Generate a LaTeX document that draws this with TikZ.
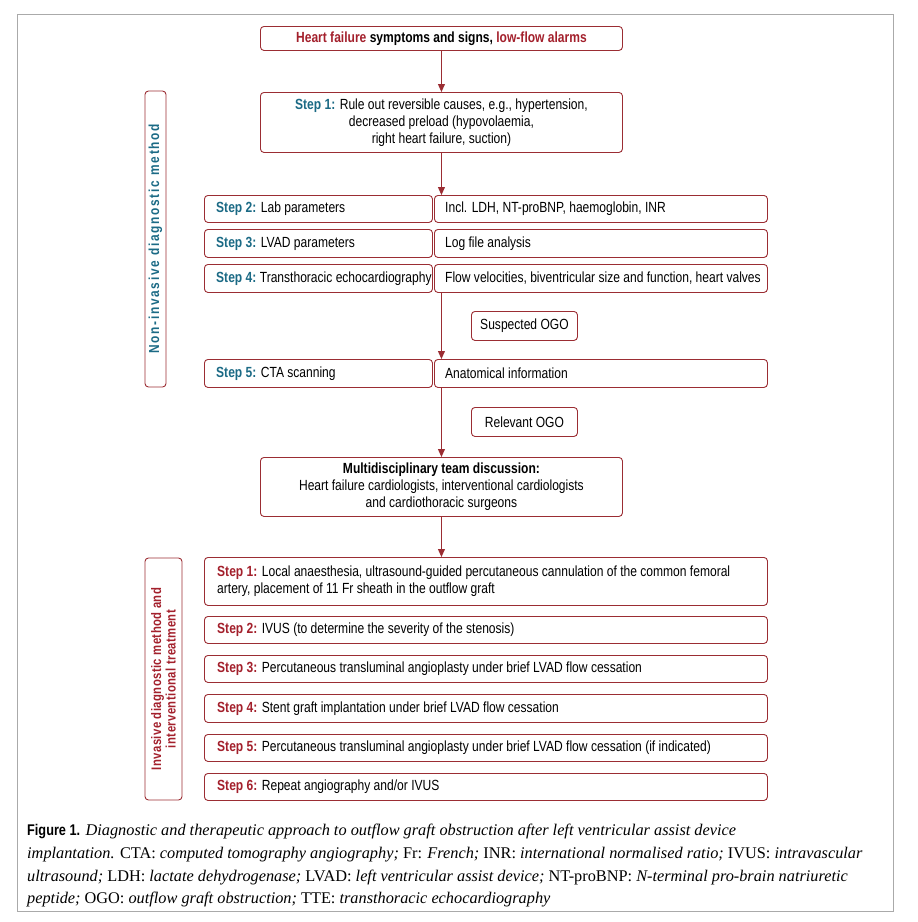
\documentclass[tikz,border=0pt]{standalone}
\usepackage{fontspec}
\setmainfont{Liberation Serif}
\newfontfamily\cf[FakeStretch=0.82]{Liberation Sans}
\usetikzlibrary{arrows.meta}
\definecolor{bred}{HTML}{9B2D33}
\definecolor{tred}{HTML}{A3202C}
\definecolor{tealc}{HTML}{1B6A85}
\definecolor{framec}{HTML}{AAAAAA}
\newcommand\tstep[1]{{\color{tealc}\bfseries Step #1:}}
\newcommand\rstep[1]{{\color{tred}\bfseries Step #1:}}
\begin{document}
\begin{tikzpicture}[x=1pt,y=-1pt,
  font=\cf\fontsize{14.7}{17}\selectfont,
  box/.style={draw=bred, line width=0.9pt, rounded corners=3.5pt, inner sep=0pt, anchor=north west},
  lbl/.style={anchor=west, inner sep=0pt},
  ctext/.style={align=center, inner sep=0pt},
  arr/.style={draw=bred, line width=0.9pt, -{Triangle[length=8pt,width=7pt]}},
  capline/.style={anchor=base west, inner sep=0pt, font=\fontsize{16.3}{18}\selectfont}
]
\useasboundingbox (0,0) rectangle (918,922);
\draw[framec, line width=1pt] (17,14) rectangle (893,911);

% top
\node[box, minimum width=362pt, minimum height=24pt] (top) at (260,26) {};
\node[ctext] (toptxt) at (top.center) {\bfseries{\color{tred}Heart failure} symptoms and signs, {\color{tred}low-flow alarms}};

\node[box, minimum width=362pt, minimum height=60pt] (s1) at (260,92) {};
\node[ctext] (s1txt) at (s1.center) {\tstep{1} Rule out reversible causes, e.g., hypertension,\\ decreased preload (hypovolaemia,\\ right heart failure, suction)};

% side box non-invasive
\node[draw=bred, line width=0.9pt, rounded corners=3.5pt, rotate=90, minimum width=296pt, minimum height=21pt, inner sep=0pt,
      font=\cf\bfseries\fontsize{14.5}{15}\selectfont\addfontfeature{LetterSpace=12}, text=tealc] (ni) at (155.5,239) {Non-invasive diagnostic method};

% rows
\node[box, minimum width=228pt, minimum height=27pt] (s2l) at (204,195) {};
\node[box, minimum width=333pt, minimum height=27pt] (s2r) at (434,195) {};
\node[box, minimum width=228pt, minimum height=28pt] (s3l) at (204,229) {};
\node[box, minimum width=333pt, minimum height=28pt] (s3r) at (434,229) {};
\node[box, minimum width=228pt, minimum height=28pt] (s4l) at (204,264) {};
\node[box, minimum width=333pt, minimum height=28pt] (s4r) at (434,264) {};
\node[box, minimum width=228pt, minimum height=28pt] (s5l) at (204,359) {};
\node[box, minimum width=333pt, minimum height=28pt] (s5r) at (434,359) {};

\node[lbl] (s2lt) at ([xshift=12pt]s2l.west) {\tstep{2} Lab parameters};
\node[lbl] (s2rt) at ([xshift=11pt]s2r.west) {Incl. LDH, NT-proBNP, haemoglobin, INR};
\node[lbl] (s3lt) at ([xshift=12pt]s3l.west) {\tstep{3} LVAD parameters};
\node[lbl] (s3rt) at ([xshift=11pt]s3r.west) {Log file analysis};
\node[lbl] (s4lt) at ([xshift=12pt]s4l.west) {\tstep{4}\hspace{-1pt} Transthoracic echocardiography};
\node[lbl] (s4rt) at ([xshift=11pt]s4r.west) {Flow velocities, biventricular size and function, heart valves};
\node[lbl] (s5lt) at ([xshift=12pt]s5l.west) {\tstep{5} CTA scanning};
\node[lbl] (s5rt) at ([xshift=11pt]s5r.west) {Anatomical information};

\node[box, minimum width=106pt, minimum height=29pt] (sus) at (471,311) {};
\node[ctext] (sustxt) at (sus.center) {Suspected OGO};
\node[box, minimum width=106pt, minimum height=29pt] (rel) at (471,407) {};
\node[ctext] (reltxt) at (rel.center) {Relevant OGO};

\node[box, minimum width=362pt, minimum height=59pt] (mdt) at (260,457) {};
\node[ctext] (mdttxt) at (mdt.center) {\bfseries Multidisciplinary team discussion:\\ Heart failure cardiologists, interventional cardiologists\\ and cardiothoracic surgeons};

% side box invasive
\node[draw=bred, line width=0.9pt, rounded corners=3.5pt, rotate=90, minimum width=242pt, minimum height=37pt, inner sep=0pt, align=center,
      font=\cf\bfseries\fontsize{13.8}{14.5}\selectfont\addfontfeature{LetterSpace=3}, text=tred] (inv) at (163.5,679) {Invasive diagnostic method and\\ interventional treatment};

% invasive steps
\node[box, minimum width=563pt, minimum height=48pt] (i1) at (204,557) {};
\node[box, minimum width=563pt, minimum height=27pt] (i2) at (204,616) {};
\node[box, minimum width=563pt, minimum height=27pt] (i3) at (204,655) {};
\node[box, minimum width=563pt, minimum height=28pt] (i4) at (204,694) {};
\node[box, minimum width=563pt, minimum height=27pt] (i5) at (204,734) {};
\node[box, minimum width=563pt, minimum height=27pt] (i6) at (204,773) {};

\node[lbl, align=left] (i1t) at ([xshift=13pt]i1.west) {\rstep{1} Local anaesthesia, ultrasound-guided percutaneous cannulation of the common femoral\\ artery, placement of 11 Fr sheath in the outflow graft};
\node[lbl] (i2t) at ([xshift=13pt]i2.west) {\rstep{2} IVUS (to determine the severity of the stenosis)};
\node[lbl] (i3t) at ([xshift=13pt]i3.west) {\rstep{3} Percutaneous transluminal angioplasty under brief LVAD flow cessation};
\node[lbl] (i4t) at ([xshift=13pt]i4.west) {\rstep{4} Stent graft implantation under brief LVAD flow cessation};
\node[lbl] (i5t) at ([xshift=13pt]i5.west) {\rstep{5} Percutaneous transluminal angioplasty under brief LVAD flow cessation (if indicated)};
\node[lbl] (i6t) at ([xshift=13pt]i6.west) {\rstep{6} Repeat angiography and/or IVUS};

% arrows
\draw[arr] (top) -- (s1);
\draw[arr] (s1.south) -- (s1.south |- s2r.north);
\draw[arr] (s4r.south -| s1.south) -- (s5r.north -| s1.south);
\draw[arr] (s5r.south -| s1.south) -- (mdt.north);
\draw[arr] (mdt.south) -- (mdt.south |- i1.north);

% caption
\node[capline] (c1) at (27,835) {{\cf\bfseries\fontsize{15.5}{18}\selectfont Figure 1.} \textit{Diagnostic and therapeutic approach to outflow graft obstruction after left ventricular assist device}};
\node[capline] (c2) at (27,858) {\textit{implantation.} CTA: \textit{computed tomography angiography;} Fr: \textit{French;} INR: \textit{international normalised ratio;} IVUS: \textit{intravascular}};
\node[capline] (c3) at (27,881) {\textit{ultrasound;} LDH: \textit{lactate dehydrogenase;} LVAD: \textit{left ventricular assist device;} NT-proBNP: \textit{N-terminal pro-brain natriuretic}};
\node[capline] (c4) at (27,903) {\textit{peptide;} OGO: \textit{outflow graft obstruction;} TTE: \textit{transthoracic echocardiography}};
\end{tikzpicture}
\end{document}
